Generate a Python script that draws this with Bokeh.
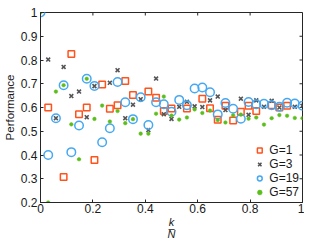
import numpy as np
from bokeh.plotting import figure
from bokeh.models import FixedTicker, Range1d, Legend, LegendItem
from bokeh.embed import file_html
from bokeh.resources import INLINE

nan = float("nan")
N = 34
k = list(range(35))

# Performance values (nan = marker not visible)
g1 = [nan, 0.600, nan, 0.307, 0.825, 0.572, 0.600, 0.379, 0.697, 0.595, 0.610, 0.712, 0.653, nan,
      0.667, 0.641, 0.585, 0.596, nan, 0.596, nan, 0.637, 0.597, 0.548, 0.607, 0.545, 0.582, 0.607,
      0.585, nan, 0.610, 0.600, 0.607, nan, nan]
g3 = [nan, 0.802, 0.555, 0.771, 0.648, 0.667, 0.559, 0.690, nan, 0.704, 0.757, 0.555, 0.612, 0.635,
      0.505, 0.722, 0.572, 0.552, 0.603, 0.624, 0.605, 0.602, 0.630, 0.646, 0.589, nan, 0.637, 0.569,
      0.630, 0.603, 0.628, 0.600, nan, 0.603, 0.607]
g19 = [1.0, 0.400, 0.555, 0.694, 0.412, 0.524, 0.721, 0.691, 0.454, 0.513, 0.707, 0.622, 0.551, 0.643,
       0.526, 0.622, 0.614, 0.582, 0.632, 0.610, 0.680, 0.684, 0.664, 0.571, 0.619, 0.595, 0.553, 0.623,
       0.614, 0.616, 0.610, 0.603, 0.620, 0.617, 0.607]
g57 = [1.0, 0.200, 0.667, 0.694, 0.529, 0.382, 0.721, 0.552, 0.608, 0.541, 0.585, 0.534, 0.551, 0.490,
       0.490, 0.574, 0.646, 0.566, 0.549, 0.558, 0.592, 0.577, 0.587, 0.547, 0.537, 0.567, 0.570, 0.553,
       0.558, 0.528, 0.555, 0.568, 0.565, 0.556, 0.555]

labels = ["G=1", "G=3", "G=19", "G=57"]
x_ticks = [0, 0.2, 0.4, 0.6, 0.8, 1]
y_ticks = [0.2, 0.3, 0.4, 0.5, 0.6, 0.7, 0.8, 0.9, 1]
x_label = "k\n\u2013\nN"   # the fraction k over N
y_label = "Performance"

xs = [ki / N for ki in k]

FONT = "Liberation Sans"
X0, X1, Y0, Y1 = 0, 1, 0.2, 1.0
FRAME_H = 190
FRAME_W = 264

p = figure(width=304, height=242, output_backend="svg", toolbar_location=None,
           x_range=Range1d(X0, X1), y_range=Range1d(Y0, Y1),
           min_border_left=2, min_border_right=2, min_border_top=12, min_border_bottom=30)
p.background_fill_color = "white"
p.border_fill_color = "white"
p.grid.visible = False
p.outline_line_color = "#262626"
p.outline_line_width = 1

for ax in (p.xaxis[0], p.yaxis[0]):
    ax.major_tick_in = 3
    ax.major_tick_out = 0
    ax.minor_tick_in = 0
    ax.minor_tick_out = 0
    ax.axis_line_color = "#262626"
    ax.major_tick_line_color = "#262626"
    ax.major_label_text_font = FONT
    ax.major_label_text_font_size = "12px"
    ax.major_label_text_color = "#1a1a1a"
    ax.axis_label_text_font = FONT
    ax.axis_label_text_font_style = "normal"
    ax.axis_label_text_color = "#1a1a1a"

p.xaxis.ticker = FixedTicker(ticks=x_ticks)
p.yaxis.ticker = FixedTicker(ticks=y_ticks)
p.xaxis.major_label_overrides = {0: "0", 1: "1"}
p.yaxis.major_label_overrides = {1: "1"}
p.xaxis.major_label_standoff = 1
p.yaxis.major_label_standoff = 3
p.yaxis.axis_label = y_label
p.yaxis.axis_label_text_font_size = "11.5px"
p.yaxis.axis_label_standoff = 2

p.xaxis.axis_label = x_label
p.xaxis.axis_label_text_font_style = "italic"
p.xaxis.axis_label_text_font_size = "11px"
p.xaxis.axis_label_text_line_height = 0.52
p.xaxis.axis_label_standoff = 0

# inward ticks on the top and right edges of the box
dx = 3 / FRAME_W * (X1 - X0)
dy = 3 / FRAME_H * (Y1 - Y0)
p.segment(x0=x_ticks, x1=x_ticks, y0=[Y1] * len(x_ticks), y1=[Y1 - dy] * len(x_ticks),
          line_color="#262626", line_width=1)
p.segment(x0=[X1] * len(y_ticks), x1=[X1 - dx] * len(y_ticks), y0=y_ticks, y1=y_ticks,
          line_color="#262626", line_width=1)

r1 = p.scatter(xs, g1, marker="square", size=6.5, fill_alpha=0,
               line_color="#FF531C", line_width=1.5)
r3 = p.scatter(xs, g3, marker="x", size=5.5, line_color="#555555", line_width=1.6)
r19 = p.scatter(xs, g19, marker="circle", size=8.5, fill_alpha=0,
                line_color="#45A8F2", line_width=1.5)
r57 = p.scatter(xs, g57, marker="circle", size=3.6, fill_color="#5CBE1C",
                line_color="#5CBE1C", line_width=0.5)

legend = Legend(items=[LegendItem(label=labels[0], renderers=[r1]),
                       LegendItem(label=labels[1], renderers=[r3]),
                       LegendItem(label=labels[2], renderers=[r19]),
                       LegendItem(label=labels[3], renderers=[r57])],
                location="bottom_right")
legend.border_line_alpha = 0
legend.background_fill_alpha = 0
legend.label_text_font = FONT
legend.label_text_font_size = "12px"
legend.label_text_color = "#1a1a1a"
legend.label_height = 12
legend.glyph_height = 12
legend.glyph_width = 12
legend.spacing = 0
legend.padding = 0
legend.margin = 3
legend.label_standoff = 4
p.add_layout(legend)

open("out.html", "w").write(file_html(p, INLINE))
